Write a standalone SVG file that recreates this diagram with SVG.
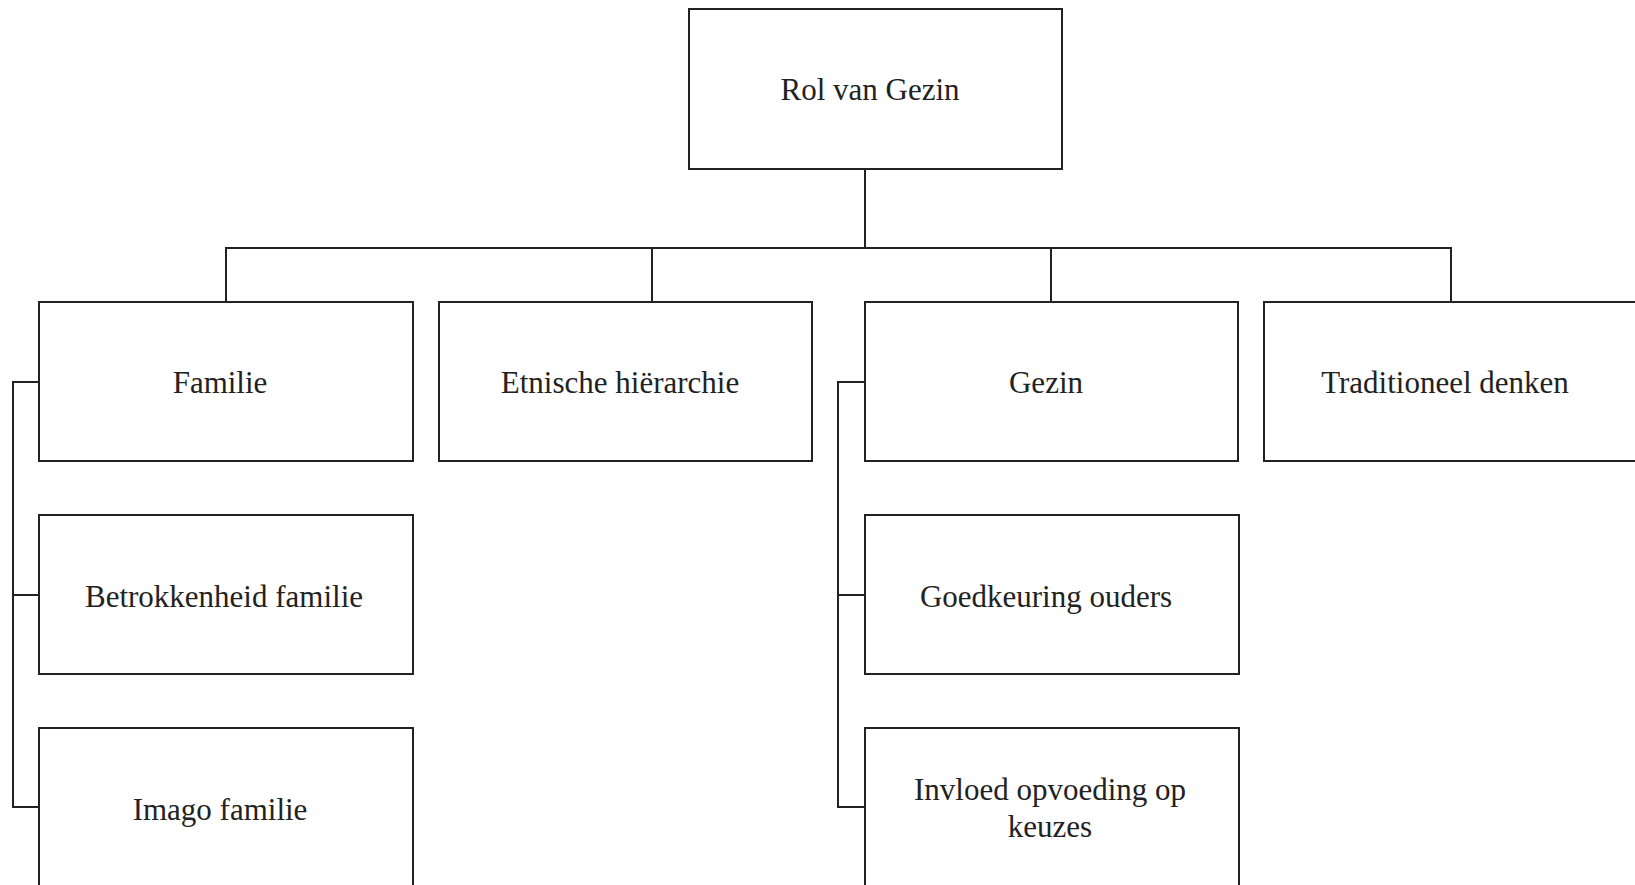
<svg xmlns="http://www.w3.org/2000/svg" width="1635" height="885" viewBox="0 0 1635 885">
<style>
.box{fill:#fff;stroke:#222;stroke-width:2}
.lbl{font-family:"Liberation Serif","Times New Roman",serif;font-size:31px;fill:#222;text-anchor:middle}
.con{fill:none;stroke:#222;stroke-width:2}
</style>
<rect width="1635" height="885" fill="#fff"/>
<g id="connectors">
<path class="con" d="M865 169 V248 M226 302 V248 H1451 V302 M652 248 V302 M1051 248 V302"/>
<path class="con" d="M39 382 H13 V807 H39 M13 595 H39"/>
<path class="con" d="M865 382 H838 V807 H865 M838 595 H865"/>
</g>
<g id="root"><rect class="box" x="689" y="9" width="373" height="160"/><text class="lbl" x="870" y="100">Rol van Gezin</text></g>
<g id="familie"><rect class="box" x="39" y="302" width="374" height="159"/><text class="lbl" x="220" y="393">Familie</text></g>
<g id="etnische"><rect class="box" x="439" y="302" width="373" height="159"/><text class="lbl" x="620" y="393">Etnische hiërarchie</text></g>
<g id="gezin"><rect class="box" x="865" y="302" width="373" height="159"/><text class="lbl" x="1046" y="393">Gezin</text></g>
<g id="traditioneel"><rect class="box" x="1264" y="302" width="374" height="159"/><text class="lbl" x="1445" y="393">Traditioneel denken</text></g>
<g id="betrokkenheid"><rect class="box" x="39" y="515" width="374" height="159"/><text class="lbl" x="224" y="607">Betrokkenheid familie</text></g>
<g id="imago"><rect class="box" x="39" y="728" width="374" height="159"/><text class="lbl" x="220" y="820">Imago familie</text></g>
<g id="goedkeuring"><rect class="box" x="865" y="515" width="374" height="159"/><text class="lbl" x="1046" y="607">Goedkeuring ouders</text></g>
<g id="invloed"><rect class="box" x="865" y="728" width="374" height="159"/><text class="lbl" x="1050" y="800">Invloed opvoeding op</text><text class="lbl" x="1050" y="837">keuzes</text></g>
</svg>
